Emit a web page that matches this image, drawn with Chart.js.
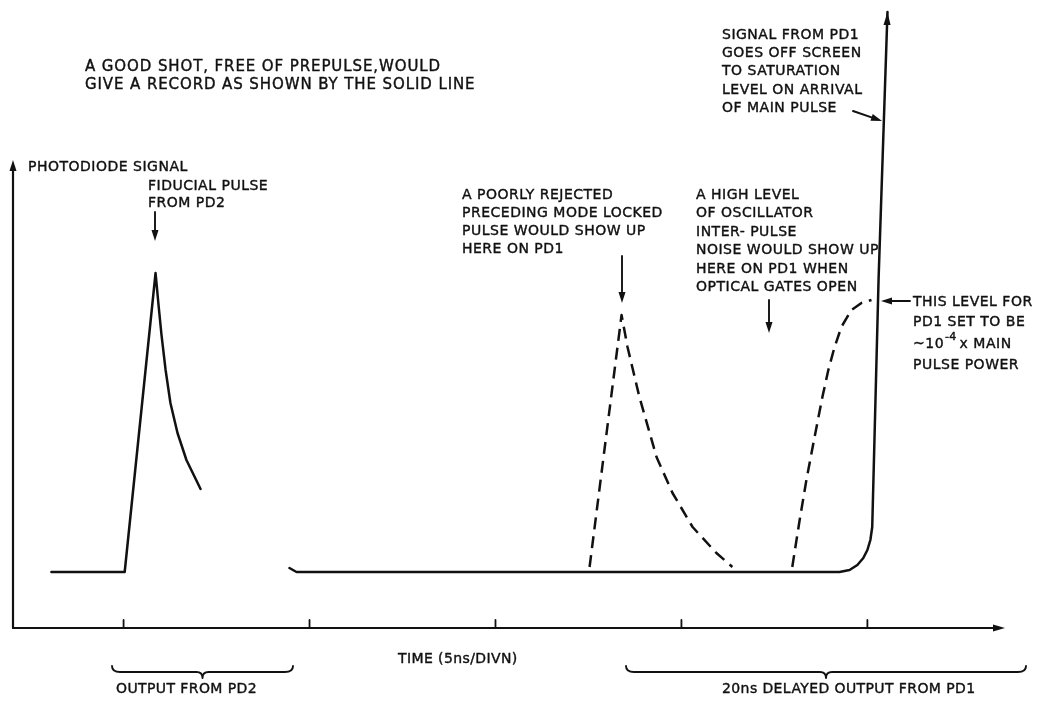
<!DOCTYPE html>
<html><head><meta charset="utf-8">
<script src="https://cdn.jsdelivr.net/npm/chart.js@4.4.1/dist/chart.umd.min.js"></script>
<style>html,body{margin:0;padding:0;background:#fff}#wrap{width:1061px;height:709px}</style>
</head><body><div id="wrap"><canvas id="c" width="1061" height="709"></canvas></div>
<script>
// ---- data (time in ns, signal in arbitrary units) ----
const pd2Time        = [3.06, 5.03, 5.86, 5.94, 6.02, 6.13, 6.26, 6.45, 6.69, 7.07];
const pd2Signal      = [11.2, 11.2, 71.0, 64.6, 58.6, 51.6, 45.0, 39.0, 33.6, 27.8];
const pd1Time        = [9.46, 9.65, 24.25, 24.52, 24.73, 24.89, 25.00, 25.08, 25.13, 25.30, 25.54];
const pd1Signal      = [12.0, 11.2, 11.2, 11.6, 12.6, 14.0, 15.6, 17.6, 20.2, 69.6, 123.2];
const prepulseTime   = [17.53, 18.39, 18.55, 18.87, 19.33, 19.76, 20.30, 20.94, 21.37];
const prepulseSignal = [12.2, 62.6, 56.2, 46.2, 34.2, 27.0, 20.2, 15.0, 12.2];
const noiseTime      = [22.98, 23.17, 23.36, 23.58, 23.79, 23.95, 24.11, 24.30, 24.57, 24.84, 25.11];
const noiseSignal    = [12.2, 21.2, 29.6, 38.2, 46.2, 51.6, 56.0, 60.2, 63.6, 65.0, 65.6];
const tickTimes      = [5, 10, 15, 20, 25];
const timeRange      = [2, 28.7];
const signalRange    = [0, 124];
const signalAxisTop  = 93.6;

const pts = (xs, ys) => xs.map((v, i) => ({x: v, y: ys[i]}));

// ---- annotations (layout) ----
const INK = '#111';
const FAMILY = '"DejaVu Sans", sans-serif';
const texts = [
  {t:'A GOOD SHOT, FREE OF PREPULSE,WOULD', x:85, y:67, size:15, ls:0.9},
  {t:'GIVE A RECORD AS SHOWN BY THE SOLID LINE', x:85, y:85, size:15, ls:0.9},
  {t:'PHOTODIODE SIGNAL', x:28, y:167},
  {t:'FIDUCIAL PULSE', x:148, y:186},
  {t:'FROM PD2', x:148, y:203},
  {t:'A POORLY REJECTED', x:462, y:195},
  {t:'PRECEDING MODE LOCKED', x:462, y:213},
  {t:'PULSE WOULD SHOW UP', x:462, y:231},
  {t:'HERE ON PD1', x:462, y:249},
  {t:'A HIGH LEVEL', x:696, y:195},
  {t:'OF OSCILLATOR', x:696, y:213},
  {t:'INTER- PULSE', x:696, y:232},
  {t:'NOISE WOULD SHOW UP', x:696, y:250},
  {t:'HERE ON PD1 WHEN', x:696, y:269},
  {t:'OPTICAL GATES OPEN', x:696, y:287},
  {t:'SIGNAL FROM PD1', x:722, y:35},
  {t:'GOES OFF SCREEN', x:722, y:53},
  {t:'TO SATURATION', x:722, y:71},
  {t:'LEVEL ON ARRIVAL', x:722, y:90},
  {t:'OF MAIN PULSE', x:722, y:108},
  {t:'THIS LEVEL FOR', x:913, y:302},
  {t:'PD1 SET TO BE', x:913, y:322},
  {t:'PULSE POWER', x:913, y:365},
  {t:'TIME (5ns/DIVN)', x:398, y:659, ls:0.4},
  {t:'OUTPUT FROM PD2', x:116, y:689, ls:0.4},
  {t:'20ns DELAYED OUTPUT FROM PD1', x:722, y:689, ls:0.4}
];
const arrows = [
  [155,212,155,241],
  [622,256,622,303],
  [769,300,769,333],
  [910,301,881,301],
  [853,111,882,121]
];
const braces = [[112,293],[626,1026]];

function arrowHead(ctx, x1, y1, x2, y2, len, half) {
  const a = Math.atan2(y2 - y1, x2 - x1);
  ctx.beginPath();
  ctx.moveTo(x2, y2);
  ctx.lineTo(x2 - len*Math.cos(a) + half*Math.sin(a), y2 - len*Math.sin(a) - half*Math.cos(a));
  ctx.lineTo(x2 - len*Math.cos(a) - half*Math.sin(a), y2 - len*Math.sin(a) + half*Math.cos(a));
  ctx.closePath();
  ctx.fill();
}

function inkText(ctx, s, x, y, size, ls) {
  ctx.font = size + 'px ' + FAMILY;
  ctx.letterSpacing = ls + 'px';
  ctx.lineWidth = 0.4;
  ctx.fillText(s, x, y);
  ctx.strokeText(s, x, y);
  return ctx.measureText(s).width;
}

const sketch = {
  id: 'sketch',
  afterDatasetsDraw(chart) {
    const {ctx, scales:{x, y}} = chart;
    ctx.save();
    ctx.strokeStyle = INK; ctx.fillStyle = INK;
    ctx.lineCap = 'round'; ctx.lineJoin = 'round';
    // axes
    const x0 = x.getPixelForValue(timeRange[0]) + 1;
    const y0 = y.getPixelForValue(0);
    ctx.lineWidth = 2.2;
    ctx.beginPath(); ctx.moveTo(x0, y0); ctx.lineTo(x0, y.getPixelForValue(signalAxisTop) + 8); ctx.stroke();
    arrowHead(ctx, x0, y0, x0, y.getPixelForValue(signalAxisTop), 11, 3.5);
    const xEnd = x.getPixelForValue(timeRange[1]);
    ctx.beginPath(); ctx.moveTo(x0, y0); ctx.lineTo(xEnd - 8, y0); ctx.stroke();
    arrowHead(ctx, x0, y0, xEnd, y0, 12, 3.5);
    ctx.lineWidth = 1.8;
    tickTimes.forEach(t => {
      const px = x.getPixelForValue(t);
      ctx.beginPath(); ctx.moveTo(px, y0); ctx.lineTo(px, y0 - 8); ctx.stroke();
    });
    // arrow tip on main pulse
    const meta = chart.getDatasetMeta(1).data;
    const a = meta[meta.length - 2], b = meta[meta.length - 1];
    arrowHead(ctx, a.x, a.y, b.x, b.y, 13, 3.5);
    // annotation arrows
    ctx.lineWidth = 1.9;
    arrows.forEach(([x1,y1,x2,y2]) => {
      const ang = Math.atan2(y2-y1, x2-x1);
      ctx.beginPath(); ctx.moveTo(x1,y1); ctx.lineTo(x2 - 8*Math.cos(ang), y2 - 8*Math.sin(ang)); ctx.stroke();
      arrowHead(ctx, x1, y1, x2, y2, 11, 3.5);
    });
    // braces
    ctx.lineWidth = 1.9;
    braces.forEach(([l, r]) => {
      const c = (l + r) / 2, yt = 666, yl = 672, yb = 678;
      ctx.beginPath();
      ctx.moveTo(l, yt);
      ctx.quadraticCurveTo(l, yl, l + 8, yl);
      ctx.lineTo(c - 6, yl);
      ctx.quadraticCurveTo(c, yl, c, yb);
      ctx.quadraticCurveTo(c, yl, c + 6, yl);
      ctx.lineTo(r - 8, yl);
      ctx.quadraticCurveTo(r, yl, r, yt);
      ctx.stroke();
    });
    // texts
    ctx.textBaseline = 'middle';
    ctx.textAlign = 'left';
    texts.forEach(o => inkText(ctx, o.t, o.x, o.y, o.size || 14, o.ls == null ? 0.5 : o.ls));
    // ~10^-4 x MAIN
    let cx = 913;
    cx += inkText(ctx, '~10', cx, 344, 14, 0.5) + 1;
    cx += inkText(ctx, '-4', cx, 337, 11, 0.3) + 3;
    inkText(ctx, 'x MAIN', cx, 344, 14, 0.5);
    ctx.restore();
  }
};

const solid = {borderColor: INK, borderWidth: 2.5, pointRadius: 0, tension: 0, borderCapStyle: 'round', borderJoinStyle: 'round', fill: false};
const dashed = Object.assign({}, solid, {borderDash: [12, 7], borderCapStyle: 'butt'});

new Chart(document.getElementById('c'), {
  type: 'line',
  data: {
    datasets: [
      Object.assign({label: 'Output from PD2', data: pts(pd2Time, pd2Signal)}, solid),
      Object.assign({label: 'Delayed output from PD1', data: pts(pd1Time, pd1Signal)}, solid),
      Object.assign({label: 'Poorly rejected prepulse', data: pts(prepulseTime, prepulseSignal)}, dashed),
      Object.assign({label: 'Oscillator inter-pulse noise', data: pts(noiseTime, noiseSignal)}, dashed)
    ]
  },
  options: {
    responsive: false,
    devicePixelRatio: 1,
    animation: false,
    layout: {padding: {left: 12, right: 56, top: 8, bottom: 81}},
    scales: {
      x: {type: 'linear', min: timeRange[0], max: timeRange[1], display: false},
      y: {type: 'linear', min: signalRange[0], max: signalRange[1], display: false}
    },
    plugins: {legend: {display: false}, tooltip: {enabled: false}},
    elements: {line: {clip: false}}
  },
  plugins: [sketch]
});
</script>
</body></html>
